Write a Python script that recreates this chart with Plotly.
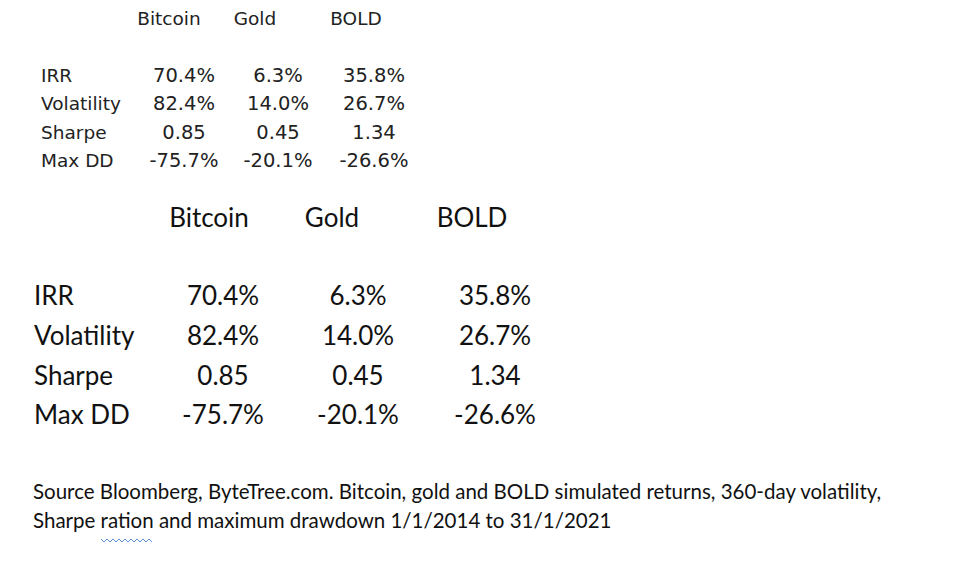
import plotly.graph_objects as go

assets = ["Bitcoin", "Gold", "BOLD"]
metrics = ["IRR", "Volatility", "Sharpe", "Max DD"]
irr = ["70.4%", "6.3%", "35.8%"]
volatility = ["82.4%", "14.0%", "26.7%"]
sharpe = ["0.85", "0.45", "1.34"]
max_dd = ["-75.7%", "-20.1%", "-26.6%"]
values = [irr, volatility, sharpe, max_dd]
caption = [
    "Source Bloomberg, ByteTree.com. Bitcoin, gold and BOLD simulated returns, 360-day volatility,",
    "Sharpe ration and maximum drawdown 1/1/2014 to 31/1/2021",
]

DX, DY = -8, -6  # page offset compensation

fig = go.Figure()

def add_table(label_x, head_x, val_x, head_y, row_y, font, size, val_size, color):
    fig.add_trace(go.Scatter(x=[h + DX for h in head_x], y=[head_y + DY] * len(assets),
                             text=assets, mode="text", textposition="middle center",
                             textfont=dict(family=font, size=size, color=color),
                             hoverinfo="skip", showlegend=False))
    fig.add_trace(go.Scatter(x=[label_x + DX] * len(metrics), y=[r + DY for r in row_y],
                             text=metrics, mode="text", textposition="middle right",
                             textfont=dict(family=font, size=size, color=color),
                             hoverinfo="skip", showlegend=False))
    for j, a in enumerate(assets):
        fig.add_trace(go.Scatter(x=[val_x[j] + DX] * len(metrics), y=[r + DY for r in row_y],
                                 text=[values[i][j] for i in range(len(metrics))],
                                 mode="text", textposition="middle center",
                                 textfont=dict(family=font, size=val_size, color=color),
                                 hoverinfo="skip", showlegend=False))

add_table(41, [169, 255, 356], [184, 278, 374], 18, [75, 103, 132, 160],
          "DejaVu Sans", 18.5, 19.5, "#222222")
add_table(34, [209, 332, 472], [223, 358, 495], 218, [296, 336, 376, 415],
          "Lato", 26, 26, "#111111")

fig.add_trace(go.Scatter(x=[33 + DX, 33 + DX], y=[492 + DY, 521 + DY], text=caption, mode="text",
                         textposition="middle right",
                         textfont=dict(family="Lato", size=20.5, color="#111111"),
                         hoverinfo="skip", showlegend=False))

# spell-check squiggle under "ration"
xs = list(range(101, 154, 3))
path = "M " + " L ".join(f"{x + DX},{(537 if k % 2 == 0 else 540) + DY}" for k, x in enumerate(xs))
fig.add_shape(type="path", path=path, xref="x", yref="y",
              line=dict(color="#5b8fd6", width=1))

fig.update_layout(
    width=960, height=574,
    margin=dict(l=0, r=0, t=0, b=0),
    paper_bgcolor="white", plot_bgcolor="white",
    xaxis=dict(range=[0, 960], visible=False, fixedrange=True),
    yaxis=dict(range=[574, 0], visible=False, fixedrange=True),
)

fig.write_html("out.html")
